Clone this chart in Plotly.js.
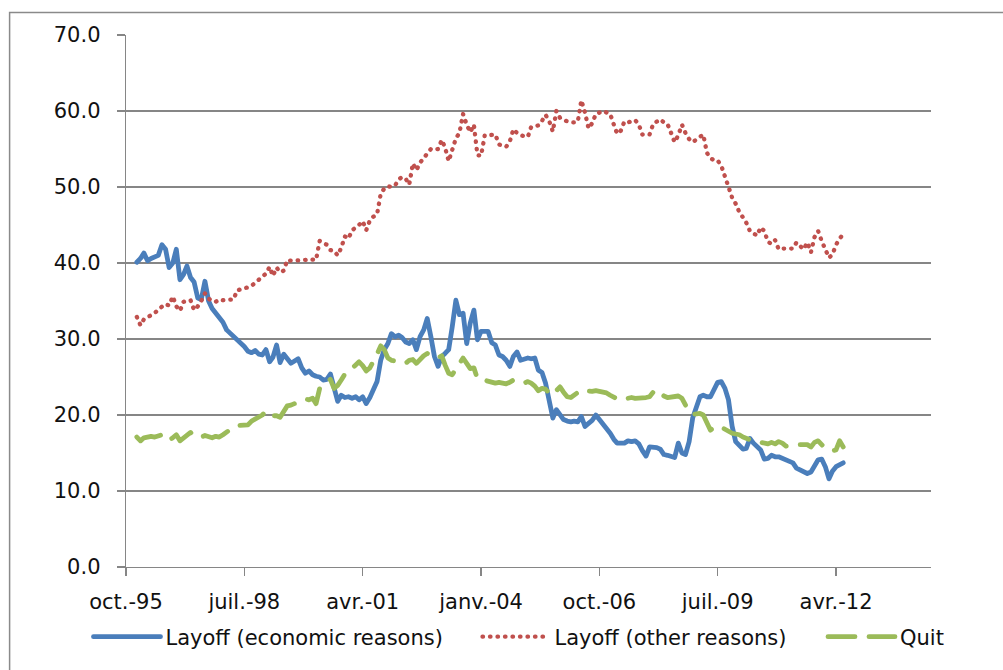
<!DOCTYPE html>
<html><head><meta charset="utf-8">
<script src="https://cdn.plot.ly/plotly-3.0.1.min.js"></script>
<style>html,body{margin:0;padding:0;background:#fff}#chart{width:1003px;height:670px}</style>
</head><body><div id="chart"></div>
<script>
// Monthly series starting January 1996
const startYear = 1996, startMonth = 1;
const tickDates = ['1995-10-01','1998-07-01','2001-04-01','2004-01-01','2006-10-01','2009-07-01','2012-04-01'];
const tickLabels = ['oct.-95','juil.-98','avr.-01','janv.-04','oct.-06','juil.-09','avr.-12'];
const seriesNames = ['Layoff (economic reasons)','Layoff (other reasons)','Quit'];

const layoffEconomic = [
 40.1,40.6,41.3,40.3,40.6,40.8,41.0,42.4,41.8,39.4,
 40.0,41.8,37.8,38.5,39.6,38.1,37.5,35.4,35.2,37.6,
 35.0,34.0,33.4,33.0,32.2,31.2,30.8,30.5,29.9,29.5,
 29.0,28.4,28.2,28.5,28.0,27.9,28.6,27.0,27.6,29.2,
 26.9,28.0,27.4,26.8,27.1,27.4,26.2,25.5,25.8,25.3,
 25.1,25.0,24.6,24.7,25.4,23.3,21.8,22.6,22.3,22.4,
 22.2,22.4,22.0,22.4,21.5,22.3,23.3,24.4,27.2,28.6,
 29.4,30.7,30.3,30.5,30.2,29.6,29.4,29.9,28.6,30.3,
 31.2,32.7,30.3,27.7,26.4,27.7,28.1,28.6,31.6,35.1,
 33.2,33.4,29.4,32.1,33.8,29.9,31.0,31.0,31.0,29.5,
 29.2,27.9,27.7,27.2,26.4,27.7,28.3,27.2,27.3,27.5,
 27.4,27.5,25.9,25.6,24.2,22.0,19.6,20.7,20.1,19.4,
 19.2,19.1,19.2,19.1,19.8,18.5,18.9,19.3,20.0,19.4,
 18.7,18.3,17.6,16.8,16.3,16.3,16.3,16.6,16.5,16.6,
 16.2,15.3,14.6,15.8,15.8,15.7,15.5,14.8,14.7,14.5,
 14.4,16.3,15.0,14.8,16.5,19.6,21.1,22.4,22.6,22.4,
 22.4,23.3,24.3,24.4,23.5,22.0,18.5,16.5,16.1,15.5,
 15.6,16.9,16.3,15.8,15.4,14.2,14.3,14.7,14.5,14.5,
 14.3,14.1,13.9,13.7,13.0,12.8,12.5,12.3,12.5,13.4,
 14.1,14.2,13.2,11.6,12.6,13.2,13.4,13.7
];
const layoffOther = [
 32.9,31.8,32.6,32.9,33.2,33.4,33.9,34.3,34.6,34.4,
 35.6,34.3,33.7,34.9,35.0,35.1,33.8,34.3,35.0,36.0,
 35.3,35.0,34.9,35.2,35.1,35.1,35.1,35.2,36.4,36.5,
 36.6,36.8,37.0,37.4,37.7,38.2,38.6,39.5,38.3,39.4,
 38.8,39.0,40.4,40.3,40.3,40.4,40.4,40.4,40.5,40.5,
 40.4,42.9,42.6,42.4,41.7,41.6,41.0,42.0,43.5,43.2,
 44.3,44.6,45.0,45.5,44.3,45.6,46.1,46.4,49.1,49.8,
 50.1,50.0,50.2,51.0,51.3,51.1,50.3,53.1,52.2,53.2,
 53.8,54.4,55.0,54.9,55.0,56.2,55.2,53.4,55.0,56.4,
 57.1,59.6,58.2,57.2,58.2,54.2,54.1,56.8,56.8,56.9,
 56.9,55.6,55.5,55.3,56.0,57.6,57.1,56.8,56.7,56.6,
 57.9,58.0,58.1,58.7,59.5,58.7,57.3,60.0,59.1,58.8,
 58.6,58.5,58.5,58.6,61.4,59.8,57.7,58.4,59.6,59.8,
 60.0,59.8,59.6,58.2,57.0,57.4,58.6,58.5,58.7,58.8,
 58.2,56.9,56.9,56.9,58.3,58.7,58.9,58.5,58.3,57.1,
 55.9,56.8,58.2,57.1,56.3,55.9,56.2,56.5,56.9,54.5,
 53.8,53.5,53.5,52.8,51.5,49.9,48.6,47.8,46.7,46.0,
 45.3,44.2,43.9,43.6,44.7,44.2,42.8,42.5,43.0,41.8,
 41.9,41.9,41.9,41.9,42.7,42.2,41.8,42.7,41.4,43.4,
 44.2,42.9,41.9,40.7,41.1,42.4,43.2,43.8
];
const quit = [
 17.1,16.6,17.0,17.1,17.2,17.1,17.2,17.4,16.8,16.7,
 17.0,17.4,16.6,17.0,17.5,17.7,17.2,17.1,17.1,17.3,
 17.2,17.0,17.2,17.1,17.4,17.8,18.1,18.4,18.6,18.6,
 18.6,18.7,19.2,19.5,19.8,20.0,20.5,20.0,19.9,19.9,
 19.7,20.6,21.2,21.3,21.5,21.7,22.0,22.1,22.0,22.2,
 21.5,23.5,23.8,24.3,24.7,23.5,23.9,24.6,25.4,25.7,
 26.2,26.5,27.0,26.5,25.8,26.2,27.0,28.0,29.1,28.6,
 27.5,27.2,27.1,27.0,26.9,26.8,27.2,27.3,26.8,27.4,
 27.8,28.1,27.8,27.6,27.5,27.8,26.6,25.5,25.3,26.0,
 26.8,27.5,26.8,26.1,26.2,24.8,24.7,24.6,24.5,24.3,
 24.2,24.3,24.2,24.1,24.3,24.6,24.4,24.3,24.2,24.4,
 24.2,23.8,23.2,23.5,23.4,22.9,22.6,23.2,23.7,23.0,
 22.4,22.3,22.6,23.0,23.3,23.2,23.1,23.1,23.2,23.1,
 23.0,22.9,22.6,22.3,22.1,22.0,22.1,22.2,22.3,22.2,
 22.2,22.2,22.3,22.4,23.0,23.3,22.9,22.5,22.3,22.4,
 22.5,22.5,22.2,21.3,20.4,20.1,20.1,20.2,20.0,18.8,
 18.0,18.4,18.5,18.4,18.1,17.8,17.6,17.5,17.4,17.1,
 16.9,16.7,16.6,16.4,16.4,16.3,16.2,16.4,16.2,16.5,
 16.3,15.9,16.0,16.1,16.1,16.1,16.1,16.1,15.8,16.4,
 16.6,16.0,15.6,15.5,15.3,15.4,16.6,15.8
];

const months = layoffEconomic.map((_, i) => {
  const m = startMonth - 1 + i;
  const y = startYear + Math.floor(m / 12);
  return y + '-' + String(m % 12 + 1).padStart(2, '0') + '-01';
});

const FONT = 'DejaVu Sans, Verdana, sans-serif';
const GRID = '#868686';

const data = [
  {x: months, y: layoffEconomic, name: seriesNames[0], type: 'scatter', mode: 'lines',
   line: {color: '#4A7EBB', width: 4.8}, legend: 'legend'},
  {x: months, y: layoffOther, name: seriesNames[1], type: 'scatter', mode: 'lines',
   line: {color: '#C0504D', width: 4.3, dash: '0.5px,7px'}, legend: 'legend2'},
  {x: months, y: quit, name: seriesNames[2], type: 'scatter', mode: 'lines',
   line: {color: '#9BBB59', width: 4.8, dash: '27px,14px'}, legend: 'legend3'}
];

const L = 126, R = 72, T = 35, B = 103;
const PW = 1003 - L - R, PH = 670 - T - B;
const px2x = p => (p - L) / PW;
const px2y = p => (670 - B - p) / PH;

const legendCommon = {orientation: 'h', yanchor: 'middle', xanchor: 'left', y: px2y(637),
  bgcolor: 'rgba(0,0,0,0)', borderwidth: 0, itemwidth: 67,
  font: {family: FONT, size: 21, color: '#111'}};

const layout = {
  width: 1003, height: 670,
  margin: {l: L, r: R, t: T, b: B, pad: 0},
  paper_bgcolor: '#fff', plot_bgcolor: '#fff',
  font: {family: FONT, size: 21, color: '#111'},
  xaxis: {type: 'date', range: ['1995-10-01', '2014-06-16'],
    tickvals: tickDates, ticktext: tickLabels,
    showgrid: false, zeroline: false, showline: true, linecolor: GRID, linewidth: 1.3,
    ticks: 'outside', ticklen: 8, tickcolor: GRID, tickwidth: 1.3,
    tickfont: {family: FONT, size: 21, color: '#111'}, ticklabelstandoff: 7},
  yaxis: {range: [0, 70], dtick: 10, tick0: 0, tickformat: '.1f',
    showgrid: true, gridcolor: GRID, gridwidth: 1.3, zeroline: false,
    showline: true, linecolor: GRID, linewidth: 1.3,
    ticks: 'outside', ticklen: 8, tickcolor: GRID, tickwidth: 1.3,
    tickfont: {family: FONT, size: 21, color: '#111'}, ticklabelstandoff: 12},
  showlegend: true,
  legend: Object.assign({}, legendCommon, {x: px2x(88.5)}),
  legend2: Object.assign({}, legendCommon, {x: px2x(477.5)}),
  legend3: Object.assign({}, legendCommon, {x: px2x(823)}),
  shapes: [{type: 'rect', xref: 'paper', yref: 'paper',
    x0: px2x(9.6), x1: px2x(1030), y0: px2y(700), y1: px2y(12.5),
    line: {color: '#8a8a8a', width: 1.5}, fillcolor: 'rgba(0,0,0,0)', layer: 'below'}]
};

Plotly.newPlot('chart', data, layout, {staticPlot: true, displayModeBar: false}).then(gd => {
  gd.querySelectorAll('.scatterlayer path.js-line, .legendlines path.js-line').forEach(p => {
    p.style.strokeLinecap = 'round';
    p.style.strokeLinejoin = 'round';
  });
});
</script>
</body></html>
